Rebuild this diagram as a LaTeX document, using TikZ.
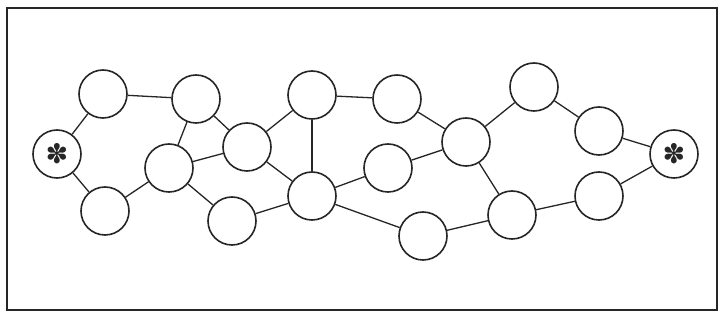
\documentclass[tikz,border=0pt]{standalone}
\usepackage{fontspec}
\newfontfamily\symfont{DejaVu Sans}
\begin{document}
\begin{tikzpicture}[x=1pt,y=-1pt,
  vert/.style={circle,draw=black!85,line width=1.6pt,minimum size=48pt,inner sep=0pt,fill=white},
  star/.style={vert,font=\symfont\fontsize{27}{27}\selectfont,text=black!85},
  edge/.style={draw=black!85,line width=1.3pt}]
\useasboundingbox (0,0) rectangle (721,320);
\fill[white] (0,0) rectangle (721,320);
\draw[black!85,line width=1.6pt] (7,8) rectangle (717,310);
\node[star] (S) at (57,154) {✽};
\node[vert] (A) at (103,94) {};
\node[vert] (B) at (105,211) {};
\node[vert] (C) at (196,99) {};
\node[vert] (D) at (169,168) {};
\node[vert] (E) at (247,147) {};
\node[vert] (F) at (232,221) {};
\node[vert] (G) at (312,95) {};
\node[vert] (H) at (312,196) {};
\node[vert] (I) at (397,99) {};
\node[vert] (J) at (388,168) {};
\node[vert] (K) at (466,142) {};
\node[vert] (L) at (423,236) {};
\node[vert] (M) at (534,87) {};
\node[vert] (N) at (512,215) {};
\node[vert] (O) at (599,131) {};
\node[vert] (P) at (599,196) {};
\node[star] (T) at (674,154) {✽};
\foreach \a/\b in {S/A,S/B,A/C,B/D,C/D,C/E,D/E,D/F,E/G,E/H,G/H,F/H,G/I,H/J,H/L,I/K,J/K,K/M,K/N,L/N,M/O,O/T,N/P,P/T}
  \path[edge] (\a) -- (\b);
\end{tikzpicture}
\end{document}
